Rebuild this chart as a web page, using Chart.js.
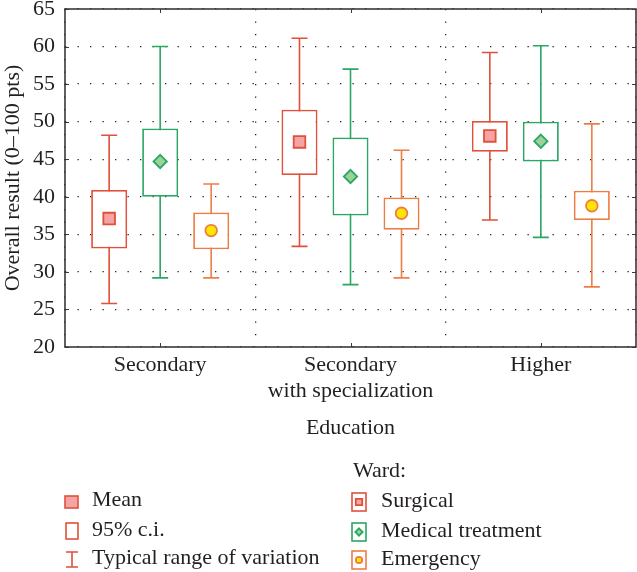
<!DOCTYPE html>
<html>
<head>
<meta charset="utf-8">
<script src="https://cdn.jsdelivr.net/npm/chart.js@4/dist/chart.umd.min.js"></script>
<style>
  html, body { margin: 0; padding: 0; background: #fff; }
  #wrap { width: 637px; height: 572px; position: relative; }
</style>
</head>
<body>
<div id="wrap"><canvas id="chart"></canvas></div>
<script>
const categories = ['Secondary', ['Secondary', 'with specialization'], 'Higher'];
const wards = ['Surgical', 'Medical treatment', 'Emergency'];
const legendItems = ['Mean', '95% c.i.', 'Typical range of variation'];
const wardTitle = 'Ward:';

// means, 95% c.i. bounds and typical range bounds per education level
const surgicalMean = [37.1, 47.3, 48.1];
const surgicalCiLow = [33.1, 42.9, 46.0];
const surgicalCiHigh = [40.9, 51.6, 50.1];
const surgicalMin = [25.8, 33.4, 36.9];
const surgicalMax = [48.2, 61.1, 59.2];

const medicalMean = [44.7, 42.7, 47.4];
const medicalCiLow = [40.0, 37.5, 44.7];
const medicalCiHigh = [49.1, 47.9, 50.0];
const medicalMin = [29.2, 28.3, 34.6];
const medicalMax = [60.0, 57.0, 60.1];

const emergencyMean = [35.5, 37.8, 38.8];
const emergencyCiLow = [33.0, 35.6, 36.9];
const emergencyCiHigh = [37.9, 39.9, 40.8];
const emergencyMin = [29.2, 29.2, 28.0];
const emergencyMax = [41.7, 46.2, 49.7];

const red = '#e0503a', green = '#2ba664', orange = '#ee7d45';
const textColor = '#231f20';
const fontFamily = '"Liberation Serif", "DejaVu Serif", serif';

function ci(lo, hi) {
    return lo.map((v, i) => [v, hi[i]]);
}

function drawMarker(ctx, style, x, y, stroke, fill, size) {
    ctx.save();
    ctx.fillStyle = fill;
    ctx.strokeStyle = stroke;
    ctx.lineWidth = 1.8;
    ctx.beginPath();
    if (style === 'rect') {
        ctx.rect(x - size, y - size, size * 2, size * 2);
    } else if (style === 'diamond') {
        const s = size * 1.15;
        ctx.moveTo(x, y - s);
        ctx.lineTo(x + s, y);
        ctx.lineTo(x, y + s);
        ctx.lineTo(x - s, y);
        ctx.closePath();
    } else {
        ctx.arc(x, y, size, 0, Math.PI * 2);
    }
    ctx.fill();
    ctx.stroke();
    ctx.restore();
}

const boxPlugin = {
    id: 'boxPlugin',
    beforeDatasetsDraw(chart) {
        // whiskers, drawn under the white boxes
        const ctx = chart.ctx;
        const y = chart.scales.y;
        chart.data.datasets.forEach((ds, d) => {
            const meta = chart.getDatasetMeta(d);
            meta.data.forEach((bar, i) => {
                const top = y.getPixelForValue(ds.whiskerHigh[i]);
                const bot = y.getPixelForValue(ds.whiskerLow[i]);
                ctx.save();
                ctx.strokeStyle = ds.borderColor;
                ctx.lineWidth = 1.6;
                ctx.beginPath();
                ctx.moveTo(bar.x, top);
                ctx.lineTo(bar.x, bot);
                ctx.moveTo(bar.x - 8, top);
                ctx.lineTo(bar.x + 8, top);
                ctx.moveTo(bar.x - 8, bot);
                ctx.lineTo(bar.x + 8, bot);
                ctx.stroke();
                ctx.restore();
            });
        });
    },
    afterDatasetsDraw(chart) {
        const ctx = chart.ctx;
        const y = chart.scales.y;
        chart.data.datasets.forEach((ds, d) => {
            const meta = chart.getDatasetMeta(d);
            meta.data.forEach((bar, i) => {
                drawMarker(ctx, ds.markerStyle, bar.x, y.getPixelForValue(ds.means[i]),
                    ds.borderColor, ds.markerFill, 5.8);
            });
        });
    },
    afterDraw(chart) {
        const ctx = chart.ctx;
        const a = chart.chartArea;
        const y = chart.scales.y;
        const x = chart.scales.x;

        // frame and inward ticks
        ctx.save();
        ctx.strokeStyle = '#3a3a3a';
        ctx.lineWidth = 1.6;
        ctx.strokeRect(a.left, a.top, a.right - a.left, a.bottom - a.top);
        ctx.lineWidth = 1;
        ctx.beginPath();
        y.ticks.forEach(t => {
            const py = Math.round(y.getPixelForValue(t.value)) + 0.5;
            ctx.moveTo(a.left, py); ctx.lineTo(a.left + 4, py);
            ctx.moveTo(a.right - 4, py); ctx.lineTo(a.right, py);
        });
        categories.forEach((c, i) => {
            const px = Math.round(x.getPixelForValue(i)) + 0.5;
            ctx.moveTo(px, a.top); ctx.lineTo(px, a.top + 4);
            ctx.moveTo(px, a.bottom); ctx.lineTo(px, a.bottom - 4);
        });
        ctx.stroke();
        ctx.restore();

        // legend
        ctx.save();
        ctx.font = '22px ' + fontFamily;
        ctx.fillStyle = textColor;
        ctx.textBaseline = 'middle';
        ctx.textAlign = 'left';
        const rows = [500, 530, 558];
        legendItems.forEach((t, i) => ctx.fillText(t, 92, rows[i]));
        ctx.fillText(wardTitle, 353, 471);
        wards.forEach((t, i) => ctx.fillText(t, 381, rows[i] + 1));

        // left icons
        ctx.lineWidth = 1.6;
        ctx.strokeStyle = red;
        ctx.fillStyle = '#f4a4a4';
        ctx.fillRect(65, 496, 13, 12);
        ctx.strokeRect(65, 496, 13, 12);
        ctx.strokeRect(66, 523, 12, 16);
        ctx.beginPath();
        ctx.moveTo(66, 552); ctx.lineTo(78, 552);
        ctx.moveTo(72, 552); ctx.lineTo(72, 567);
        ctx.moveTo(66, 567); ctx.lineTo(78, 567);
        ctx.stroke();

        // ward icons
        const wardColors = [red, green, orange];
        const wardFills = ['#f4a4a4', '#9ad29a', '#ffe600'];
        const wardStyles = ['rect', 'diamond', 'circle'];
        wards.forEach((w, i) => {
            const cy = rows[i] + 2;
            ctx.fillStyle = '#fff';
            ctx.strokeStyle = wardColors[i];
            ctx.lineWidth = 1.6;
            ctx.fillRect(352, cy - 9, 14, 18);
            ctx.strokeRect(352, cy - 9, 14, 18);
            drawMarker(ctx, wardStyles[i], 359, cy, wardColors[i], wardFills[i], 3.2);
        });
        ctx.restore();
    }
};

Chart.defaults.font.family = fontFamily;
Chart.defaults.font.size = 22;
Chart.defaults.color = textColor;

new Chart(document.getElementById('chart'), {
    type: 'bar',
    data: {
        labels: categories,
        datasets: [
            {
                label: wards[0], data: ci(surgicalCiLow, surgicalCiHigh),
                means: surgicalMean, whiskerLow: surgicalMin, whiskerHigh: surgicalMax,
                borderColor: red, markerFill: '#f4a4a4', markerStyle: 'rect'
            },
            {
                label: wards[1], data: ci(medicalCiLow, medicalCiHigh),
                means: medicalMean, whiskerLow: medicalMin, whiskerHigh: medicalMax,
                borderColor: green, markerFill: '#9ad29a', markerStyle: 'diamond'
            },
            {
                label: wards[2], data: ci(emergencyCiLow, emergencyCiHigh),
                means: emergencyMean, whiskerLow: emergencyMin, whiskerHigh: emergencyMax,
                borderColor: orange, markerFill: '#ffe600', markerStyle: 'circle'
            }
        ].map(ds => Object.assign(ds, {
            backgroundColor: '#ffffff',
            borderWidth: 1.8,
            borderSkipped: false,
            categoryPercentage: 0.804,
            barPercentage: 0.706
        }))
    },
    options: {
        responsive: true,
        maintainAspectRatio: false,
        animation: false,
        layout: { padding: { left: 0, right: 1, top: 9, bottom: 131 } },
        plugins: { legend: { display: false }, tooltip: { enabled: false } },
        scales: {
            x: {
                afterFit: s => { s.height = 94; s.paddingLeft = 0; s.paddingRight = 0; },
                grid: { color: '#222', lineWidth: 1.3, drawTicks: false, offset: true },
                border: { display: false, dash: [1.3, 11.2] },
                ticks: { padding: 5, color: textColor, font: { size: 22 } },
                title: { display: true, text: 'Education', color: textColor, padding: 0, font: { size: 22 } }
            },
            y: {
                min: 20, max: 65,
                afterFit: s => { s.width = 65; s.paddingTop = 0; s.paddingBottom = 0; },
                grid: { color: '#222', lineWidth: 1.3, drawTicks: false },
                border: { display: false, dash: [1.3, 11.2] },
                ticks: { stepSize: 5, padding: 10, color: textColor, font: { size: 22 } },
                title: { display: true, text: 'Overall result (0–100 pts)', color: textColor, padding: 0, font: { size: 22 } }
            }
        }
    },
    plugins: [boxPlugin]
});
</script>
</body>
</html>
